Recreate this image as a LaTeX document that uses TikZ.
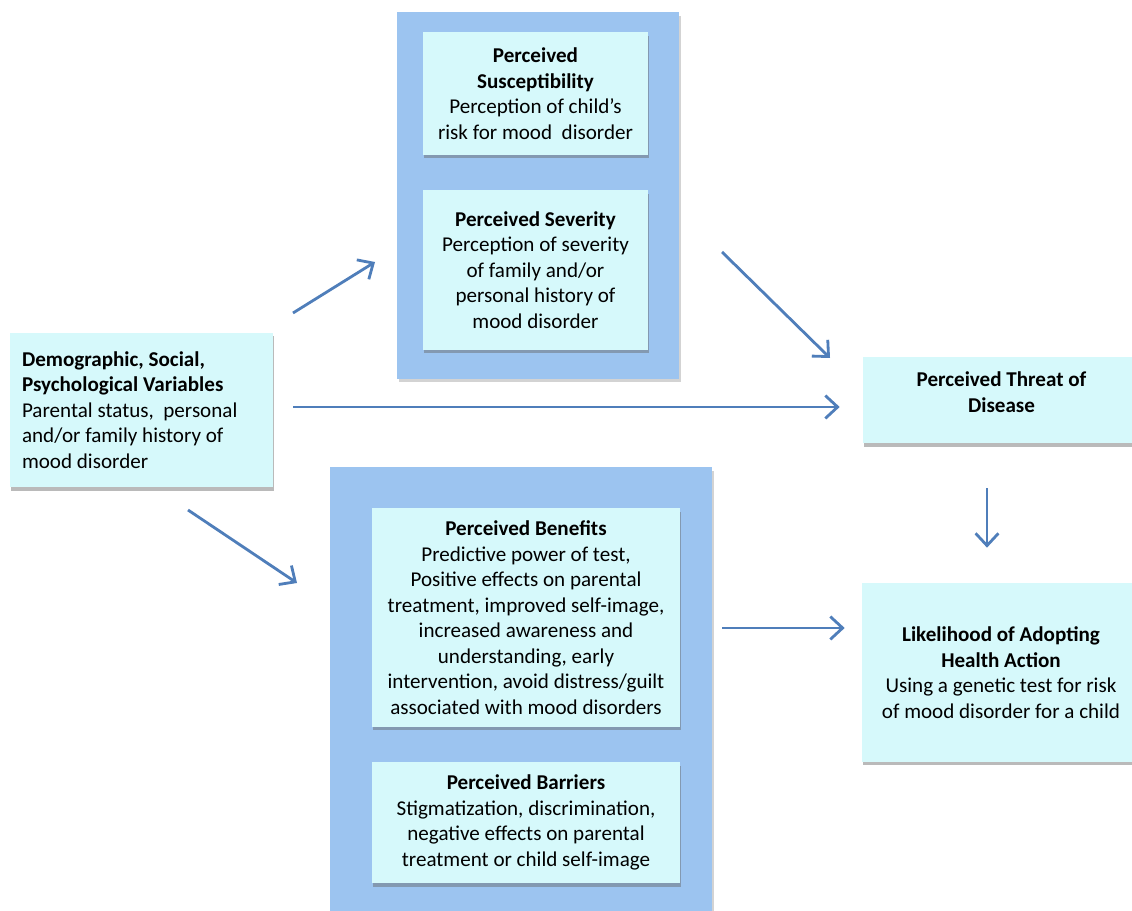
\documentclass[tikz,border=0pt]{standalone}
\usepackage{fontspec}
\setmainfont{Carlito}
\usetikzlibrary{arrows.meta,positioning,shadows}

\definecolor{boxcyan}{RGB}{214,249,251}
\definecolor{groupblue}{RGB}{156,196,240}
\definecolor{arrowblue}{RGB}{79,126,186}

\begin{document}
\begin{tikzpicture}[x=0.02cm, y=-0.02cm,
    inbox/.style={fill=boxcyan, align=center, inner sep=0pt,
      font=\fontsize{12}{14.5}\selectfont,
      drop shadow={shadow xshift=0.5pt, shadow yshift=-2pt, fill=black!60, opacity=0.45}},
    groupbox/.style={fill=groupblue, inner sep=0pt,
      drop shadow={shadow xshift=1pt, shadow yshift=-2pt, fill=black!50, opacity=0.35}},
    flow/.style={-{Straight Barb[length=7pt,width=13pt]}, line width=1.6pt, arrowblue}]
  \useasboundingbox (0,0) rectangle (1132,911);

  % Top group - susceptibility and severity
  \node[groupbox, minimum width=5.64cm, minimum height=7.34cm] (topgroup) at (538,195.5) {};
  \node[inbox, minimum width=4.5cm, minimum height=2.46cm] (suscept) at (535.5,93.5)
    {\textbf{Perceived}\\\textbf{Susceptibility}\\Perception of child's\\risk for mood\ \ disorder};
  \node[inbox, minimum width=4.5cm, minimum height=3.2cm] (severity) at (535.5,270)
    {\textbf{Perceived Severity}\\Perception of severity\\of family and/or\\personal history of\\mood disorder};

  % Bottom group - benefits and barriers
  \node[groupbox, minimum width=7.64cm, minimum height=9.06cm] (botgroup) at (521,693.5) {};
  \node[inbox, minimum width=6.16cm, minimum height=4.38cm] (benefits) at (526,617.5)
    {\textbf{Perceived Benefits}\\Predictive power of test,\\Positive effects on parental\\treatment, improved self-image,\\increased awareness and\\understanding, early\\intervention, avoid distress/guilt\\associated with mood disorders};
  \node[inbox, minimum width=6.16cm, minimum height=2.42cm] (barriers) at (526,822.5)
    {\textbf{Perceived Barriers}\\Stigmatization, discrimination,\\negative effects on parental\\treatment or child self-image};

  % Left box - modifying variables
  \node[inbox, align=flush left, text width=4.78cm, inner xsep=0.24cm, minimum height=3.1cm] (demo) at (141.5,410)
    {\textbf{Demographic, Social,}\\\textbf{Psychological Variables}\\Parental status,\ \ personal\\and/or family history of\\mood disorder};

  % Right column - threat and action
  \node[inbox, minimum width=5.54cm, minimum height=1.72cm] (threat) at (1001.5,400)
    {\textbf{Perceived Threat of}\\\textbf{Disease}\\[-5.5pt]\mbox{}};
  \node[inbox, minimum width=5.56cm, minimum height=3.58cm] (likely) at (1001,672.5)
    {\textbf{Likelihood of Adopting}\\\textbf{Health Action}\\Using a genetic test for risk\\of mood disorder for a child};

  % Arrow end points
  \coordinate (up0) at (293,313);
  \coordinate (up1) at (375,262);
  \coordinate (dn0) at (188,510);
  \coordinate (dn1) at (297,583);
  \coordinate (th0) at (722,252);
  \coordinate (th1) at (830,358);

  % Arrows
  \draw[flow] (up0) -- (up1);
  \draw[flow] (dn0) -- (dn1);
  \draw[flow] (th0) -- (th1);
  \draw[flow, shorten <=0.4cm, shorten >=0.46cm] ([yshift=0.06cm]demo.east) -- ([yshift=0.06cm]demo.east -| threat.west);
  \draw[flow, shorten <=0.9cm, shorten >=0.7cm] ([xshift=-0.29cm]threat.south) -- ([xshift=-0.29cm]threat.south |- likely.north);
  \draw[flow, shorten <=0.84cm, shorten >=0.34cm] ([yshift=-0.21cm]benefits.east) -- ([yshift=-0.21cm]benefits.east -| likely.west);
\end{tikzpicture}
\end{document}
